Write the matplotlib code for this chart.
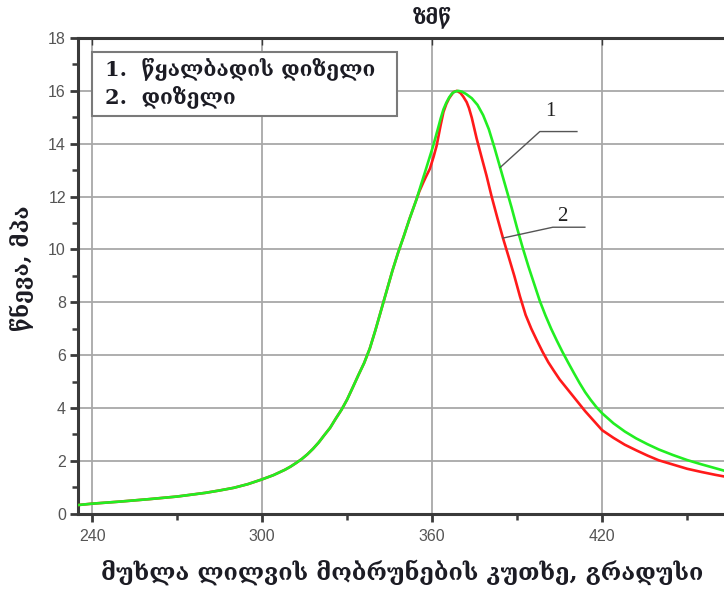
import numpy as np
import matplotlib
matplotlib.use('Agg')
import matplotlib.pyplot as plt
from matplotlib.patches import Rectangle
from matplotlib.ticker import MultipleLocator

# crank angle (deg) and cylinder pressure (MPa), common compression part
rise_angle = [235.2, 240, 250, 260, 270, 280, 285, 290, 295, 300, 302, 304, 306, 308,
              310, 312, 314, 316, 318, 320, 322, 324, 326, 328, 330, 332, 334, 336,
              338, 340, 342, 344, 346, 348, 350, 352, 354.5]
rise_p = [0.33, 0.38, 0.46, 0.55, 0.65, 0.79, 0.88, 0.98, 1.12, 1.30, 1.38, 1.46, 1.56, 1.66,
          1.78, 1.92, 2.07, 2.25, 2.46, 2.70, 2.98, 3.25, 3.60, 3.93, 4.32, 4.78, 5.25, 5.70,
          6.25, 6.95, 7.70, 8.45, 9.20, 9.88, 10.50, 11.15, 11.90]

# 1 - hydrogen + diesel
h2_angle = [356, 358, 360.4, 362, 363, 364, 365, 366, 367, 368, 369.2, 370.5, 372, 374,
            376, 378, 380, 382, 384, 386, 388, 390, 392, 394, 396, 398, 400, 402, 404,
            406, 408, 410, 412, 414, 416, 418, 420, 424, 428, 432, 436, 440, 445, 450,
            455, 460, 463]
h2_p = [12.42, 13.1, 13.93, 14.55, 14.95, 15.3, 15.55, 15.75, 15.9, 15.97, 16.0, 15.97, 15.88, 15.72,
        15.47, 15.08, 14.55, 13.85, 13.1, 12.35, 11.6, 10.8, 10.05, 9.35, 8.7, 8.05, 7.5, 7.0, 6.55,
        6.12, 5.72, 5.33, 4.95, 4.6, 4.3, 4.03, 3.8, 3.42, 3.11, 2.85, 2.63, 2.43, 2.22, 2.03,
        1.87, 1.72, 1.63]

# 2 - diesel
ds_angle = [355.5, 356.9, 358, 359.2, 360.5, 361.6, 363, 364, 365, 366, 367.5, 368.7, 370, 371,
            372.2, 373, 374, 375.7, 377.5, 379.2, 381, 383, 385, 387, 389, 391, 393, 395,
            397, 399, 401, 403, 405, 408, 411, 414, 417, 420, 424, 428, 432, 436, 440,
            445, 450, 455, 460, 463]
ds_p = [12.2, 12.54, 12.79, 13.05, 13.5, 13.93, 14.7, 15.2, 15.5, 15.72, 15.95, 16.0, 15.92, 15.78,
        15.57, 15.35, 14.98, 14.2, 13.47, 12.79, 12.0, 11.2, 10.43, 9.72, 9.0, 8.22, 7.52, 7.0,
        6.55, 6.12, 5.73, 5.4, 5.08, 4.68, 4.28, 3.88, 3.52, 3.16, 2.87, 2.61, 2.4, 2.2, 2.02,
        1.86, 1.7, 1.58, 1.47, 1.41]

x1 = np.array(rise_angle + h2_angle)
y1 = np.array(rise_p + h2_p)
x2 = np.array(rise_angle + ds_angle)
y2 = np.array(rise_p + ds_p)

geo = ['DejaVu Serif', 'DejaVu Sans']
txt_col = '#1c1c24'

fig = plt.figure(figsize=(7.24, 5.9), dpi=100)
ax = fig.add_axes([0.1084, 0.1293, 0.8916, 0.8063])

ax.plot(x2, y2, color='#ff1a1a', lw=1.9, solid_joinstyle='round', zorder=3)
ax.plot(x1, y1, color='#22ee22', lw=1.9, solid_joinstyle='round', zorder=4)

ax.set_xlim(235.2, 463.0)
ax.set_ylim(0, 18)
ax.xaxis.set_major_locator(MultipleLocator(60))
ax.xaxis.set_minor_locator(MultipleLocator(30))
ax.yaxis.set_major_locator(MultipleLocator(2))
ax.yaxis.set_minor_locator(MultipleLocator(1))
ax.grid(True, which='major', color='#a8a8a8', lw=1.3)
ax.set_axisbelow(True)

for side in ['left', 'bottom', 'top']:
    ax.spines[side].set_color('#3a3a3a')
    ax.spines[side].set_linewidth(2.2)
ax.spines['right'].set_visible(False)

ax.tick_params(which='major', direction='out', length=6, width=2, color='#3a3a3a',
               labelsize=11.5, labelcolor='#555555', pad=3)
ax.tick_params(which='minor', direction='out', length=4, width=1.8, color='#3a3a3a')
ax.tick_params(axis='x', which='major', pad=5)
ax.tick_params(axis='x', which='both', top=True)
for t in ax.xaxis.get_major_ticks() + ax.xaxis.get_minor_ticks():
    t.tick2line.set_marker(3)
    t.tick2line.set_markersize(5)
    t.tick2line.set_markeredgewidth(1)
    t.tick2line.set_color('#909090')
for t in ax.xaxis.get_minor_ticks():
    t.tick2line.set_visible(False)
for lab in ax.get_xticklabels() + ax.get_yticklabels():
    lab.set_family('Liberation Sans')

# legend box with the two curve names
ax.add_patch(Rectangle((0.021, 0.836), 0.472, 0.135, transform=ax.transAxes,
                       facecolor='white', edgecolor='#7a7a7a', lw=1.5, zorder=5))
ax.text(0.041, 0.935, '1.  წყალბადის დიზელი', transform=ax.transAxes, family=geo,
        weight='bold', fontsize=15, color=txt_col, va='center', zorder=6)
ax.text(0.041, 0.877, '2.  დიზელი', transform=ax.transAxes, family=geo,
        weight='bold', fontsize=15, color=txt_col, va='center', zorder=6)

# leader lines to the curves
i1 = h2_angle.index(384)
ax.plot([h2_angle[i1], 398.0, 411.1], [h2_p[i1], 14.46, 14.46], color='#555555', lw=1, zorder=5)
ax.text(401.6, 15.2, '1', family='Liberation Serif', fontsize=15, color='#222222',
        ha='center', va='center')
i2 = ds_angle.index(385)
ax.plot([ds_angle[i2], 402.6, 413.9], [ds_p[i2], 10.84, 10.84], color='#555555', lw=1, zorder=5)
ax.text(405.8, 11.26, '2', family='Liberation Serif', fontsize=15, color='#222222',
        ha='center', va='center')

# TDC mark above the plot
ax.annotate('ზმწ', xy=(360, 1.044), xycoords=('data', 'axes fraction'), family=geo,
            weight='bold', fontsize=14.5, color=txt_col, ha='center', va='center',
            annotation_clip=False)

fig.text(101 / 724, 18 / 590, 'მუხლა ლილვის მობრუნების კუთხე, გრადუსი', family=geo,
         weight='bold', fontsize=16.8, color=txt_col, ha='left', va='center')
fig.text(22 / 724, (590 - 268) / 590, 'წნევა, მპა', family=geo, weight='bold',
         fontsize=16, color=txt_col, rotation=90, ha='center', va='center')

fig.savefig('out.png', dpi=100)
